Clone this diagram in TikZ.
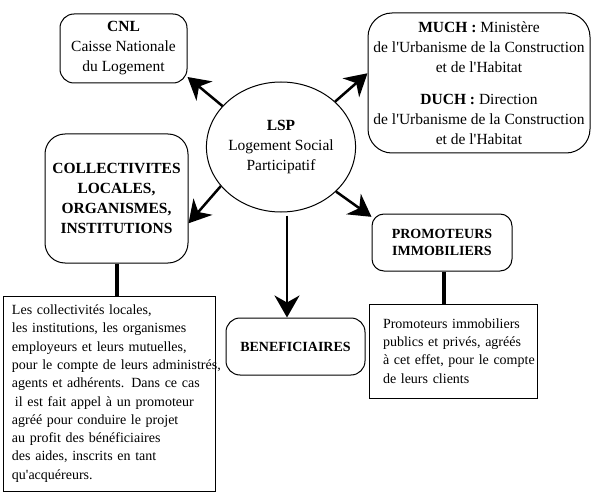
\documentclass[tikz,border=0pt]{standalone}
\usepackage{fontspec}
\setmainfont{Liberation Serif}
\usetikzlibrary{arrows.meta,positioning,shapes.geometric}

\begin{document}
\begin{tikzpicture}[x=1pt,y=-1pt,
actor/.style={rectangle, rounded corners=14pt, draw, line width=1pt, align=center, inner sep=0pt},
detail/.style={rectangle, draw, line width=1pt, align=left, inner sep=0pt},
big/.style={font=\fontsize{15.5}{20}\selectfont},
small/.style={font=\fontsize{14}{18.3}\selectfont},
arr/.style={-{Stealth[length=22pt,width=25pt,inset=7pt]}, line width=2.5pt},
link/.style={line width=4pt},
]
\useasboundingbox (0,0) rectangle (598,495);
%Nodes
\node[ellipse, draw, line width=1pt, minimum width=118pt, minimum height=130pt, inner sep=0pt, align=center, big]
  (lsp) at (281,147) {\textbf{LSP}\\ Logement Social\\ Participatif};
\node[actor, big, minimum width=127pt, minimum height=69pt] (cnl) at (123.5,48.5)
  {\textbf{CNL}\\ Caisse Nationale\\ du Logement};
\node[actor, big, rounded corners=24pt, minimum width=222pt, minimum height=140pt] (much) at (479,83)
  {\textbf{MUCH :} Ministère\\ de l\textquotesingle Urbanisme de la Construction\\ et de l\textquotesingle Habitat\\[12pt]
   \textbf{DUCH :} Direction\\ de l\textquotesingle Urbanisme de la Construction\\ et de l\textquotesingle Habitat};
\node[actor, big, rounded corners=20pt, minimum width=143pt, minimum height=129pt] (coll) at (116.5,198.5)
  {\textbf{COLLECTIVITES}\\ \textbf{LOCALES,}\\ \textbf{ORGANISMES,}\\ \textbf{INSTITUTIONS}};
\node[actor, font=\fontsize{14}{17}\selectfont\bfseries, rounded corners=12pt, minimum width=140pt, minimum height=57pt]
  (prom) at (442,242.5) {PROMOTEURS\\ IMMOBILIERS};
\node[actor, font=\fontsize{14}{17}\selectfont\bfseries, minimum width=139pt, minimum height=57pt]
  (benef) at (295.5,346.5) {BENEFICIAIRES};
\node[detail, small, minimum width=212pt, minimum height=195pt, text width=212pt] (collD) at (109,393.5)
  {\leftskip=9pt Les collectivités locales,\\ les institutions, les organismes\\ employeurs et leurs mutuelles,\\
   \mbox{pour le compte de leurs administrés,}\\ agents et adhérents. Dans ce cas\\
   \hspace*{3pt}il est fait appel à un promoteur\\ agréé pour conduire le projet\\
   au profit des bénéficiaires\\ des aides, inscrits en tant\\ qu\textquotesingle acquéreurs.\par};
\node[detail, small, minimum width=168pt, minimum height=94pt, text width=168pt] (promD) at (453,351)
  {\leftskip=14pt Promoteurs immobiliers\\ publics et privés, agréés\\ à cet effet, pour le compte\\ de leurs clients\par};

%Lines
\draw[arr] (lsp.145) -- (cnl.-24);
\draw[arr] (lsp.40) -- (much.175);
\draw[arr] (lsp.213) -- (coll.-19);
\draw[arr] (lsp.-39) -- (prom.160);
\draw[arr, shorten <=3pt] ([xshift=6pt]lsp.south) -- ([xshift=6pt]lsp.south |- benef.north);
\draw[link] (coll.south) -- (coll.south |- collD.north);
\draw[link] ([xshift=2pt]prom.south) -- ([xshift=2pt]prom.south |- promD.north);
\end{tikzpicture}
\end{document}
